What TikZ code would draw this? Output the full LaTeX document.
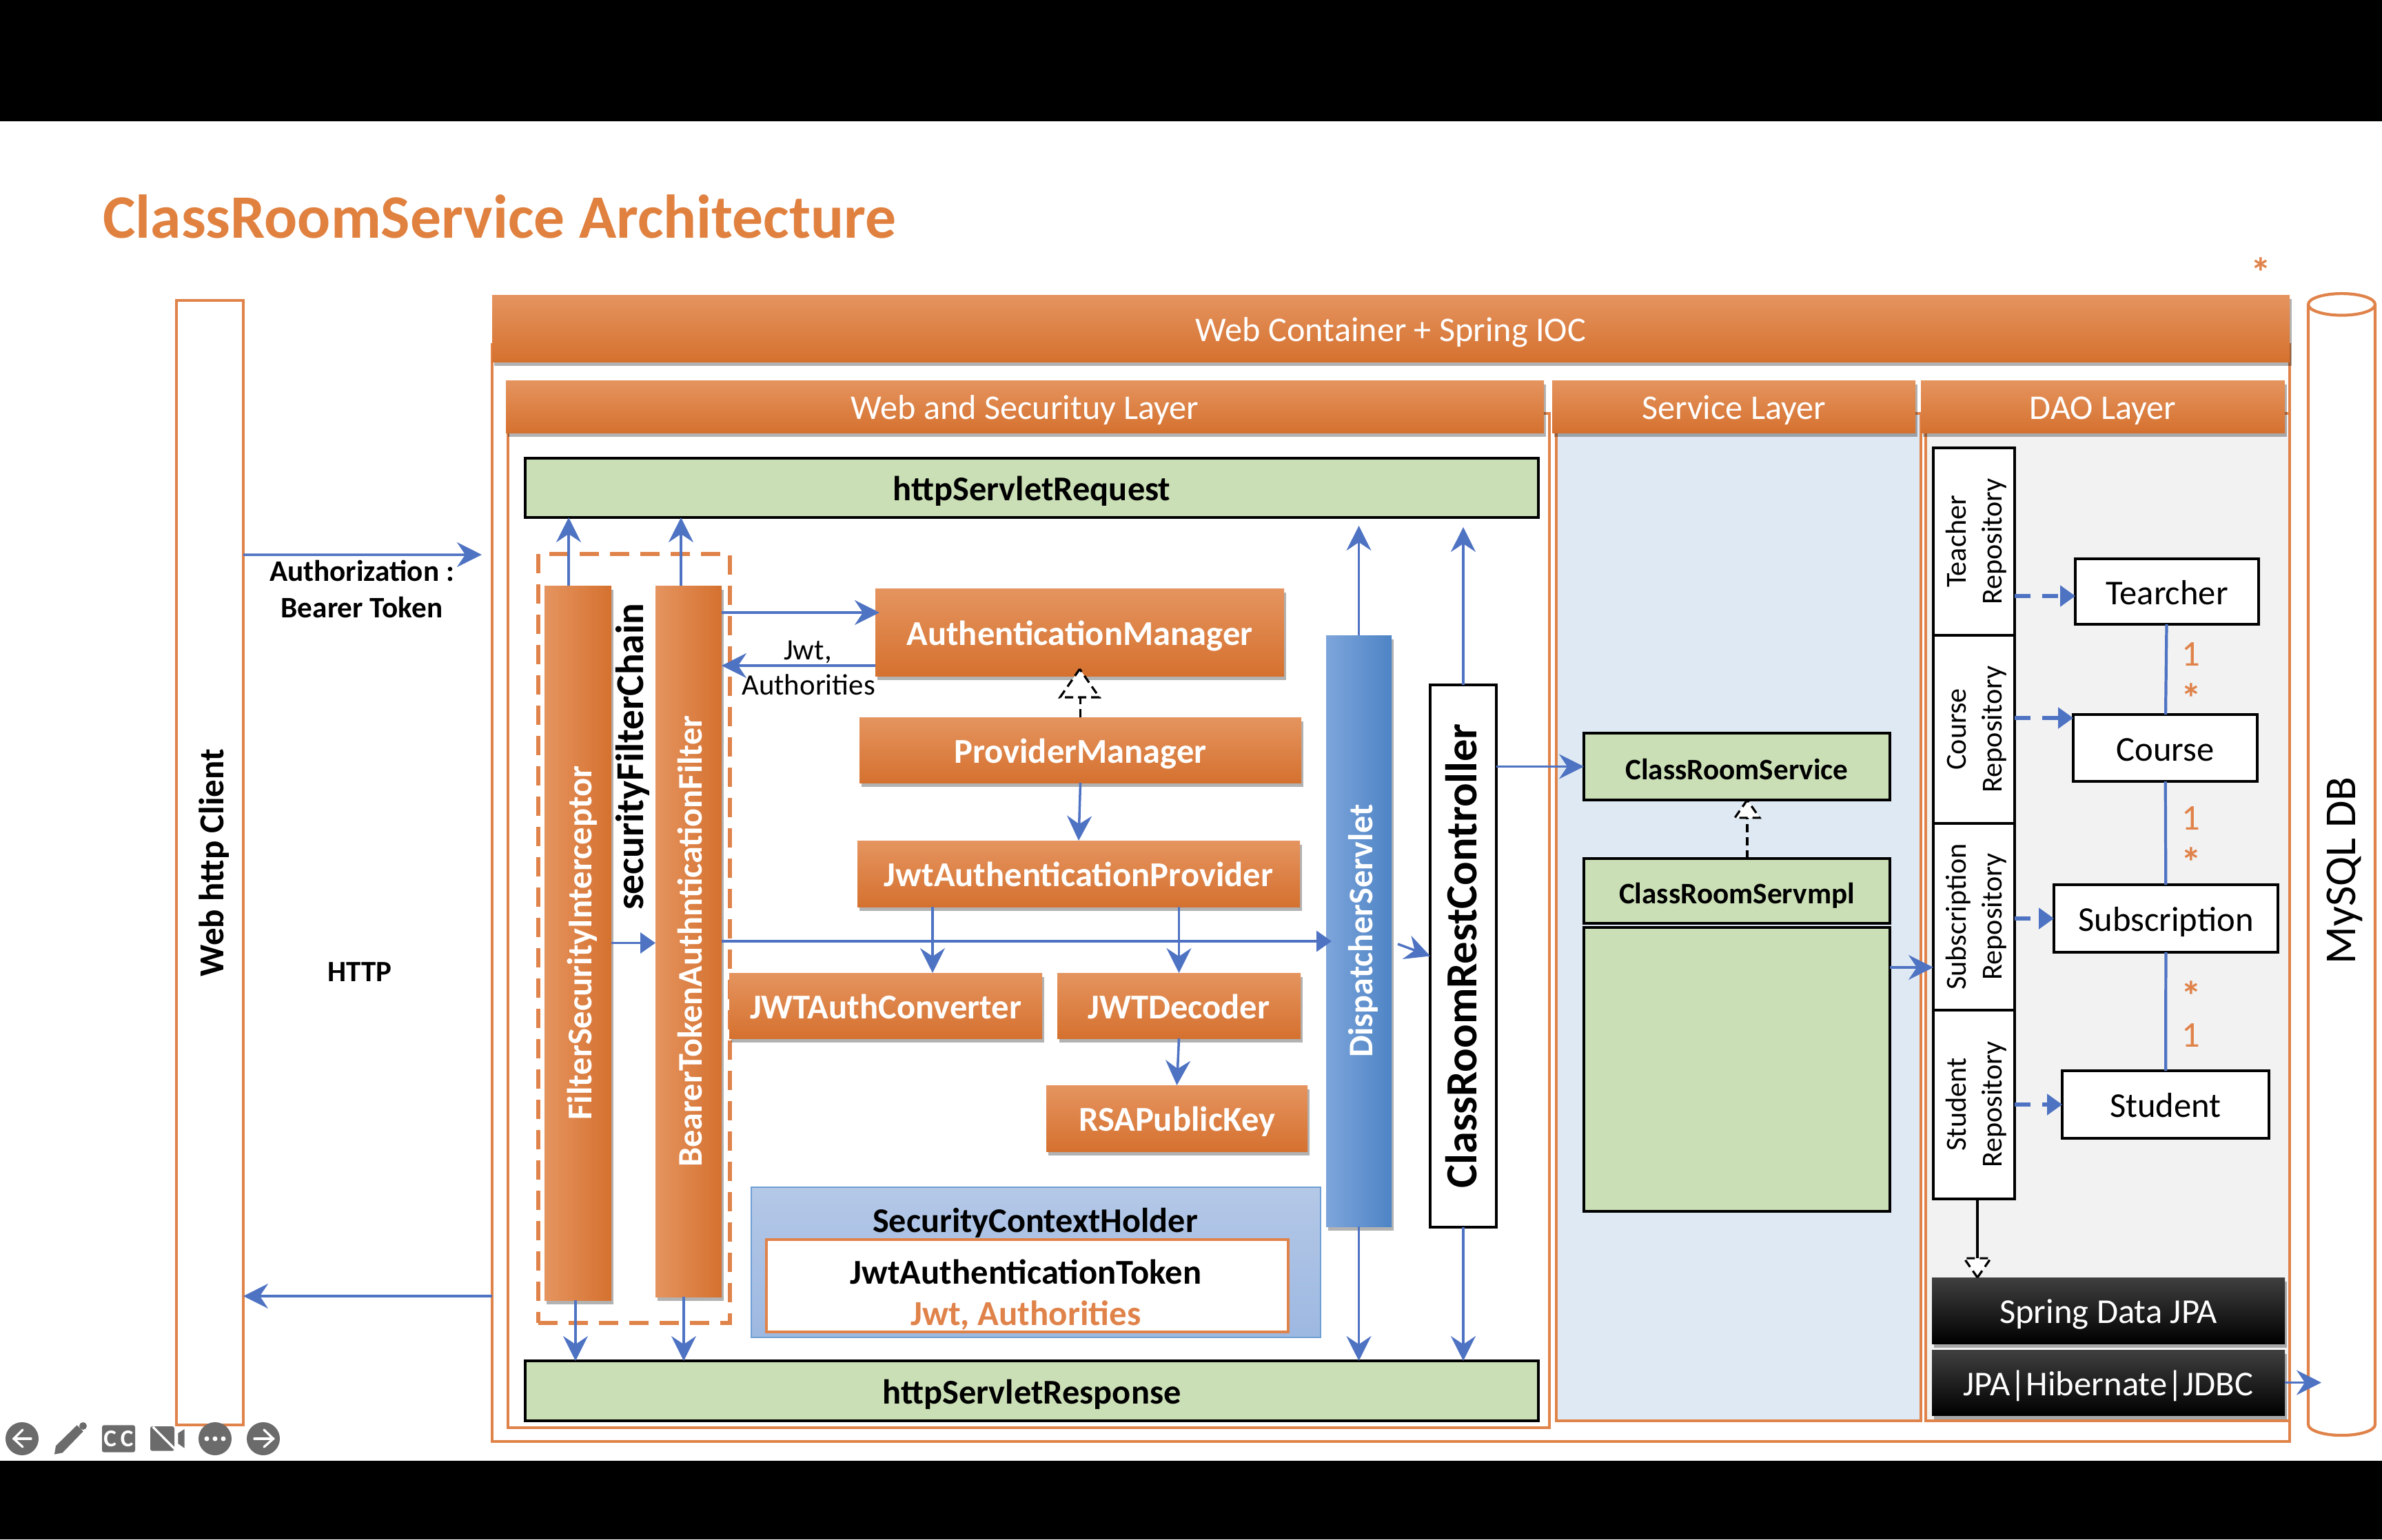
\documentclass[tikz,border=0pt]{standalone}
\usepackage{fontspec}
\setmainfont{Carlito}
\usetikzlibrary{arrows.meta,shadows,shapes.geometric}
\definecolor{barorange}{HTML}{E08140}
\definecolor{bartop}{HTML}{E5945F}
\definecolor{barmid}{HTML}{E68240}
\definecolor{barlow}{HTML}{D5712F}
\definecolor{frameorange}{HTML}{E0834A}
\definecolor{flowblue}{HTML}{4F73C3}
\definecolor{boxgreen}{HTML}{CADFB6}
\definecolor{servicefill}{HTML}{DFE9F3}
\definecolor{holderline}{HTML}{6E9FD3}
\definecolor{holdertop}{HTML}{B4C8E7}
\definecolor{holderlow}{HTML}{9DB8E1}
\definecolor{displeft}{HTML}{7DA5DB}
\definecolor{dispmid}{HTML}{6A9AD8}
\definecolor{dispright}{HTML}{4E84C5}
\newcommand{\fsize}[1]{\fontsize{#1}{#1}\selectfont}
\newcommand{\vlabel}[1]{\rotatebox{90}{\rule[-0.14cm]{0pt}{0.67cm}#1}}
\newcommand{\repolabel}[1]{\rotatebox{90}{\rule{0pt}{0.71cm}\begin{tabular}{@{}c@{}}#1\\Repository\end{tabular}}}
\tikzset{
    base/.style={inner sep=0pt, outer sep=0pt, align=center},
    oneline/.style={text height=0.51cm, text depth=0.14cm},
    softshadow/.style={drop shadow={shadow xshift=0.03cm, shadow yshift=-0.06cm, fill=black, opacity=0.3}},
    frame/.style={base, draw=frameorange, line width=1.2pt},
    hbar/.style={base, oneline, softshadow, top color=bartop, middle color=barmid, bottom color=barlow, text=white},
    vbar/.style={base, softshadow, left color=bartop, middle color=barmid, right color=barlow, text=white},
    blackbox/.style={base, draw=black, line width=1.3pt, fill=white},
    entity/.style={blackbox, oneline, font=\fsize{14.4}},
    repo/.style={blackbox, minimum width=1.18cm, font=\fontsize{12}{15}\selectfont},
    greenbox/.style={blackbox, oneline, fill=boxgreen},
    darkbar/.style={base, oneline, softshadow, top color=black!75, middle color=black, bottom color=black, text=white, minimum width=5.12cm, font=\fsize{14.4}},
    flow/.style={draw=flowblue, line width=1pt, -{Stealth[length=0.36cm, width=0.36cm, inset=0.12cm]}},
    solidflow/.style={draw=flowblue, line width=1pt, -{Triangle[length=0.22cm, width=0.3cm]}},
    dashflow/.style={solidflow, line width=1.5pt, dash pattern=on 0.23cm off 0.17cm},
    relation/.style={draw=flowblue, line width=1.2pt},
    impl/.style={draw=black, line width=0.9pt, dash pattern=on 0.12cm off 0.07cm},
    multi/.style={base, text=frameorange, font=\fsize{15}},
    star/.style={base, text=frameorange, font=\bfseries\fsize{17}},
    opentip/.pic={\draw[draw=black, line width=0.9pt, fill=white, dash pattern=on 0.12cm off 0.07cm] (0,0) -- (-0.285,-0.41) -- (0.285,-0.41) -- cycle;},
    icon/.style={fill=black!58, draw=none},
    iconline/.style={draw=white, line width=0.033cm, line cap=round}
}
\begin{document}
\begin{tikzpicture}
    \useasboundingbox (0,0) rectangle (34.56,-22.34);
    \fill[white] (0,0) rectangle (34.56,-22.34);
    \fill[black] (0,0) rectangle (34.56,-1.76);
    \fill[black] (0,-21.20) rectangle (34.56,-22.34);

    \node[base, text=barorange, font=\bfseries\fsize{25.5}] (Title) at (7.25,-3.14) {ClassRoomService Architecture};
    \node[star] (TopStar) at (32.80,-3.95) {*};

    % frames
    \node[frame, minimum width=0.97cm, minimum height=16.32cm, font=\bfseries\fsize{14.5}] (Client) at (3.045,-12.52) {\vlabel{Web http Client}};
    \node[frame, minimum width=26.08cm, minimum height=15.92cm] (Container) at (20.18,-12.96) {};
    \node[frame, minimum width=15.11cm, minimum height=14.72cm] (WebFrame) at (14.925,-13.36) {};
    \node[frame, fill=servicefill, minimum width=5.29cm, minimum height=14.62cm] (ServiceFrame) at (25.225,-13.31) {};
    \node[frame, fill=black!5, minimum width=5.28cm, minimum height=14.62cm] (DaoFrame) at (30.58,-13.31) {};
    \node[hbar, minimum width=26.08cm, minimum height=0.97cm, font=\fsize{14.3}] (ContainerBar) at (20.18,-4.765) {Web Container + Spring IOC};
    \node[hbar, minimum width=15.06cm, minimum height=0.76cm, font=\fsize{14.3}] (WebBar) at (14.87,-5.90) {Web and Securituy Layer};
    \node[hbar, minimum width=5.27cm, minimum height=0.76cm, font=\fsize{14.3}] (ServiceBar) at (25.155,-5.90) {Service Layer};
    \node[hbar, minimum width=5.28cm, minimum height=0.76cm, font=\fsize{14.3}] (DaoBar) at (30.51,-5.90) {DAO Layer};

    % web and security layer
    \node[greenbox, minimum width=14.70cm, minimum height=0.86cm, font=\bfseries\fsize{14.35}] (Request) at (14.97,-7.08) {httpServletRequest};
    \node[greenbox, minimum width=14.70cm, minimum height=0.87cm, font=\bfseries\fsize{14.35}] (Response) at (14.97,-20.185) {httpServletResponse};
    \node[base, draw=frameorange, line width=1.5pt, dash pattern=on 0.28cm off 0.16cm, minimum width=2.78cm, minimum height=11.16cm] (ChainBox) at (9.20,-13.62) {};
    \node[vbar, minimum width=0.97cm, minimum height=10.37cm, font=\bfseries\fsize{14.4}] (Filter) at (8.385,-13.685) {\vlabel{FilterSecurityInterceptor}};
    \node[vbar, minimum width=0.96cm, minimum height=10.32cm, font=\bfseries\fsize{14.3}] (Bearer) at (9.99,-13.66) {\vlabel{BearerTokenAuthnticationFilter}};
    \node[base, font=\bfseries\fsize{16.3}] (ChainLabel) at (9.14,-10.985) {\vlabel{securityFilterChain}};
    \node[hbar, minimum width=5.93cm, minimum height=1.27cm, font=\bfseries\fsize{14.4}] (Auth) at (15.665,-9.175) {AuthenticationManager};
    \node[hbar, minimum width=6.41cm, minimum height=0.95cm, font=\bfseries\fsize{14.4}] (Provider) at (15.675,-10.885) {ProviderManager};
    \node[hbar, minimum width=6.42cm, minimum height=0.96cm, font=\bfseries\fsize{14.4}] (JwtProv) at (15.65,-12.68) {JwtAuthenticationProvider};
    \node[hbar, minimum width=4.54cm, minimum height=0.95cm, font=\bfseries\fsize{14.4}] (Converter) at (12.85,-14.595) {JWTAuthConverter};
    \node[hbar, minimum width=3.53cm, minimum height=0.95cm, font=\bfseries\fsize{14.4}] (Decoder) at (17.105,-14.595) {JWTDecoder};
    \node[hbar, minimum width=3.79cm, minimum height=0.96cm, font=\bfseries\fsize{14.4}] (Rsa) at (17.075,-16.23) {RSAPublicKey};
    \node[base, draw=holderline, line width=0.7pt, top color=holdertop, bottom color=holderlow, minimum width=8.26cm, minimum height=2.18cm] (Holder) at (15.03,-18.32) {};
    \node[base, oneline, font=\bfseries\fsize{14.3}] (HolderLabel) at (15.02,-17.70) {SecurityContextHolder};
    \node[frame, fill=white, minimum width=7.57cm, minimum height=1.34cm] (Token) at (14.905,-18.66) {};
    \node[base, oneline, font=\bfseries\fsize{14.4}] (TokenLabel) at (14.885,-18.45) {JwtAuthenticationToken};
    \node[base, oneline, text=frameorange, font=\bfseries\fsize{14.5}] (TokenValue) at (14.885,-19.05) {Jwt, Authorities};
    \node[base, softshadow, left color=displeft, middle color=dispmid, right color=dispright, text=white, minimum width=0.95cm, minimum height=8.58cm, font=\bfseries\fsize{14.25}] (Dispatcher) at (19.715,-13.51) {\vlabel{DispatcherServlet}};
    \node[blackbox, minimum width=0.96cm, minimum height=7.87cm, font=\bfseries\fsize{18.35}] (Controller) at (21.23,-13.875) {\vlabel{ClassRoomRestController}};
    \node[base, font=\fsize{12.2}] (JwtLabel) at (11.72,-9.46) {Jwt,};
    \node[base, font=\fsize{12.2}] (AuthoritiesLabel) at (11.73,-9.94) {Authorities};

    % service layer
    \node[greenbox, minimum width=4.44cm, minimum height=0.97cm, font=\bfseries\fsize{12.3}] (Service) at (25.20,-11.125) {ClassRoomService};
    \node[greenbox, minimum width=4.44cm, minimum height=0.94cm, font=\bfseries\fsize{12.3}] (Impl) at (25.20,-12.93) {ClassRoomServmpl};
    \node[greenbox, minimum width=4.44cm, minimum height=4.12cm] (ImplBody) at (25.20,-15.52) {};

    % dao layer
    \node[repo, minimum height=2.72cm] (TeacherRepo) at (28.64,-7.86) {\repolabel{Teacher}};
    \node[repo, minimum height=2.73cm] (CourseRepo) at (28.64,-10.585) {\repolabel{Course}};
    \node[repo, minimum height=2.71cm] (SubscriptionRepo) at (28.64,-13.305) {\repolabel{Subscription}};
    \node[repo, minimum height=2.74cm] (StudentRepo) at (28.64,-16.03) {\repolabel{Student}};
    \node[entity, minimum width=2.66cm, minimum height=0.95cm] (Teacher) at (31.44,-8.585) {Tearcher};
    \node[entity, minimum width=2.67cm, minimum height=0.97cm] (Course) at (31.415,-10.855) {Course};
    \node[entity, minimum width=3.25cm, minimum height=0.98cm] (Subscription) at (31.425,-13.33) {Subscription};
    \node[entity, minimum width=3.00cm, minimum height=0.98cm] (Student) at (31.42,-16.03) {Student};
    \node[darkbar, minimum height=0.96cm] (SpringData) at (30.59,-19.02) {Spring Data JPA};
    \node[darkbar, minimum height=0.95cm] (Hibernate) at (30.59,-20.065) {JPA|Hibernate|JDBC};
    \node[frame, cylinder, shape border rotate=90, shape aspect=0.47, fill=white, minimum width=0.97cm, minimum height=16.57cm, font=\fsize{18.2}] (Db) at (33.975,-12.635) {\vlabel{MySQL DB}};

    \node[multi] (OneA) at (31.79,-9.50) {1};
    \node[star] (StarA) at (31.79,-10.13) {*};
    \node[multi] (OneB) at (31.79,-11.88) {1};
    \node[star] (StarB) at (31.79,-12.51) {*};
    \node[star] (StarC) at (31.79,-14.45) {*};
    \node[multi] (OneC) at (31.79,-15.03) {1};

    % client labels
    \node[base, font=\bfseries\fontsize{12.3}{15}\selectfont] (Bearing) at (5.25,-8.55) {Authorization :\\Bearer Token};
    \node[base, font=\bfseries\fsize{12.2}] (Http) at (5.22,-14.11) {HTTP};
    \coordinate (ContainerEntry) at (6.99,-8.05);

    \draw[flow] ([yshift=4.47cm]Client.east) -- (ContainerEntry);
    \draw[flow] ([yshift=-5.85cm]Container.west) -- ([yshift=-5.85cm]Container.west -| Client.east);

    \draw[flow] ([xshift=-0.135cm]Filter.north) -- ([xshift=-0.135cm]Filter.north |- Request.south);
    \draw[flow] ([xshift=-0.11cm]Bearer.north) -- ([xshift=-0.11cm]Bearer.north |- Request.south);
    \draw[flow, shorten >=0.12cm] (Dispatcher.north) -- (Dispatcher.north |- Request.south);
    \draw[flow, shorten >=0.14cm] (Controller.north) -- (Controller.north |- Request.south);
    \draw[flow] ([xshift=-0.035cm]Filter.south) -- ([xshift=-0.035cm]Filter.south |- Response.north);
    \draw[flow] ([xshift=-0.07cm]Bearer.south) -- ([xshift=-0.07cm]Bearer.south |- Response.north);
    \draw[flow] (Dispatcher.south) -- (Dispatcher.south |- Response.north);
    \draw[flow] (Controller.south) -- (Controller.south |- Response.north);

    \draw[flow] ([yshift=0.285cm]Auth.west -| Bearer.east) -- ([xshift=0.06cm,yshift=0.285cm]Auth.west);
    \draw[flow] ([yshift=-0.485cm]Auth.west) -- ([yshift=-0.485cm]Auth.west -| Bearer.east);
    \draw[solidflow] (Filter.east) -- (Filter.east -| Bearer.west);
    \draw[solidflow] (Bearer.east) -- ([xshift=0.08cm]Bearer.east -| Dispatcher.west);
    \draw[flow] ([xshift=0.09cm,yshift=-0.19cm]Dispatcher.east) -- (Controller.west);
    \draw[flow] (Provider.south) -- (JwtProv.north);
    \draw[flow] ([xshift=0.68cm]Converter.north |- JwtProv.south) -- ([xshift=0.68cm]Converter.north);
    \draw[flow] (Decoder.north |- JwtProv.south) -- (Decoder.north);
    \draw[flow] (Decoder.south) -- (Rsa.north);
    \draw[flow] (Controller.east |- Service.west) -- (Service.west);
    \draw[flow] (ImplBody.east |- 0,-14.04) -- (SubscriptionRepo.west |- 0,-14.04);
    \draw[flow] (Hibernate.east) -- ([xshift=0.53cm]Hibernate.east);

    \draw[impl] (Provider.north) -- (Provider.north |- 0,-10.12);
    \pic at ([yshift=0.10cm]Auth.south) {opentip};
    \draw[impl] ([xshift=0.15cm]Impl.north) -- ([xshift=0.15cm,yshift=-0.25cm]Service.south);
    \pic[scale=0.63] at ([xshift=0.15cm]Service.south) {opentip};
    \draw[black, line width=1pt] ([xshift=0.05cm]StudentRepo.south) -- ([xshift=0.05cm,yshift=0.26cm]StudentRepo.south |- SpringData.north);
    \pic[scale=0.68, rotate=180] at ([xshift=0.05cm]StudentRepo.south |- SpringData.north) {opentip};

    \draw[dashflow] (TeacherRepo.east |- 0,-8.65) -- (Teacher.west |- 0,-8.65);
    \draw[dashflow] (CourseRepo.east |- 0,-10.42) -- (Course.west |- 0,-10.42);
    \draw[dashflow] (SubscriptionRepo.east |- Subscription.west) -- (Subscription.west);
    \draw[dashflow] (StudentRepo.east |- Student.west) -- (Student.west);
    \draw[relation] (Teacher) -- (Course);
    \draw[relation] (Course) -- (Subscription);
    \draw[relation] (Subscription) -- (Student);

    % player icons
    \path[icon] (0.32,-20.88) circle (0.24);
    \draw[iconline] (0.45,-20.88) -- (0.20,-20.88);
    \draw[iconline] (0.33,-20.75) -- (0.20,-20.88) -- (0.33,-21.00);
    \path[icon] (0.79,-21.107) -- (0.81,-20.983) -- (1.117,-20.683) -- (1.207,-20.773) -- (0.907,-21.083) -- cycle;
    \path[icon] (1.205,-20.695) circle (0.055);
    \path[icon, rounded corners=0.03cm] (1.48,-20.683) rectangle (1.96,-21.077);
    \node[base, text=white, font=\bfseries\fsize{10}] (CcIcon) at (1.72,-20.88) {C\,C};
    \path[icon, rounded corners=0.03cm] (2.18,-20.70) rectangle (2.53,-21.057);
    \path[icon] (2.583,-20.80) -- (2.677,-20.74) -- (2.677,-21.017) -- (2.583,-20.95) -- cycle;
    \draw[iconline, line cap=butt] (2.217,-20.707) -- (2.54,-21.033);
    \path[icon] (3.12,-20.88) circle (0.24);
    \foreach \dotx in {3.00,3.12,3.24}
        \fill[white] (\dotx,-20.88) circle (0.035);
    \path[icon] (3.82,-20.88) circle (0.24);
    \draw[iconline] (3.69,-20.88) -- (3.965,-20.88);
    \draw[iconline] (3.83,-20.75) -- (3.965,-20.88) -- (3.83,-21.00);
\end{tikzpicture}
\end{document}
